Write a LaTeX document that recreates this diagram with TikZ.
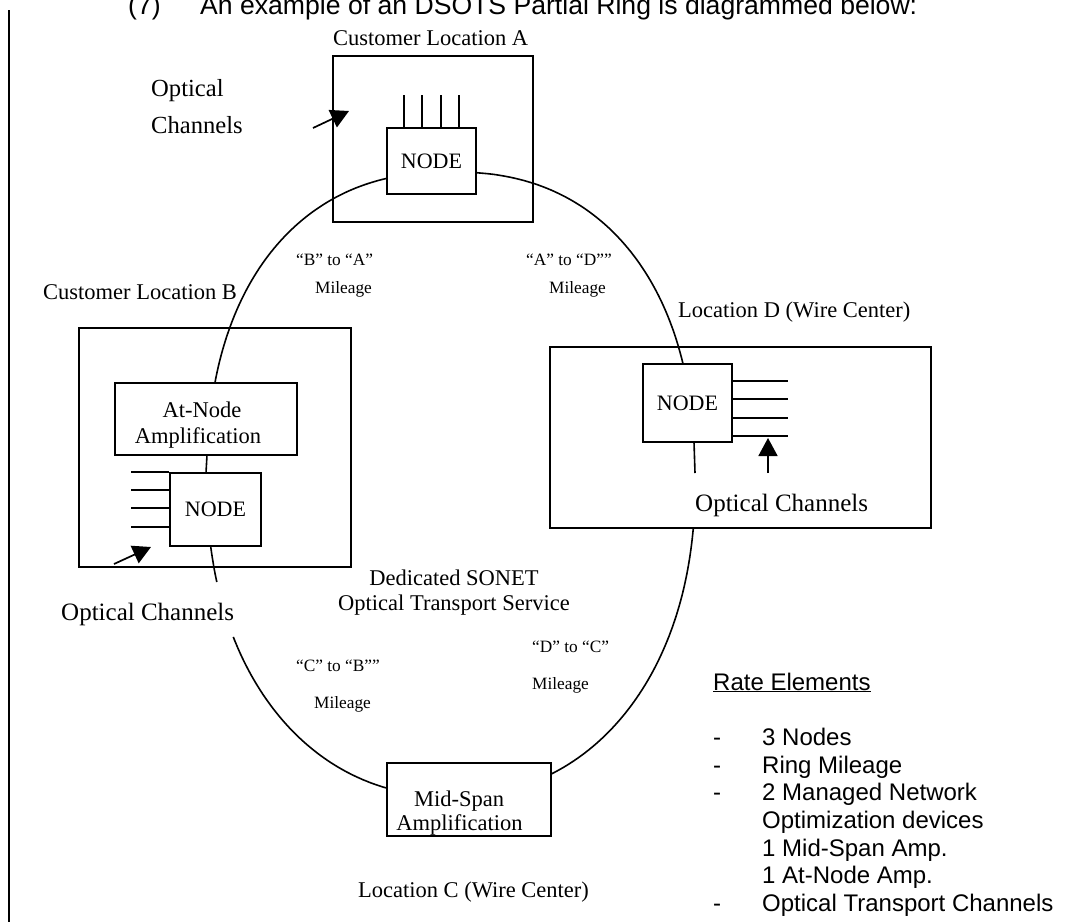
\documentclass[tikz,border=0pt]{standalone}
\usepackage{fontspec}
\setmainfont{Liberation Serif}
\newfontfamily\arialf{Liberation Sans}
\usetikzlibrary{arrows.meta,calc}
\begin{document}
\begin{tikzpicture}[x=1pt,y=-1pt,
  box/.style={draw,line width=1.9pt,inner sep=0pt},
  inbox/.style={draw,line width=1.9pt,fill=white,inner sep=0pt,font=\fontsize{22}{24}\selectfont},
  ring/.style={line width=1.6pt},
  chan/.style={line width=1.7pt},
  inarrow/.style={line width=1.7pt,-{Triangle[length=18pt,width=19pt]}},
  lbl/.style={inner sep=0pt,anchor=base west,font=\fontsize{22.5}{25}\selectfont},
  clbl/.style={inner sep=0pt,anchor=base,font=\fontsize{22.5}{25}\selectfont},
  mil/.style={inner sep=0pt,anchor=base west,font=\fontsize{17.3}{20}\selectfont},
  och/.style={inner sep=0pt,anchor=base west,font=\fontsize{25}{30}\selectfont},
]
\useasboundingbox (0,0) rectangle (1084,922);
\clip (0,0) rectangle (1084,922);

% title
\node[inner sep=0pt,anchor=base west,font=\arialf\fontsize{26.6}{30}\selectfont] (num) at (128,14) {(7)};
\node[inner sep=0pt,anchor=base west,font=\arialf\fontsize{26.6}{30}\selectfont] (title) at (200,14) {An example of an DSOTS Partial Ring is diagrammed below:};

% left margin bar
\coordinate (lt) at (9,10);
\coordinate (lb) at (9,922);
\draw[line width=2pt] (lt) -- (lb);

% outer location boxes
\node[box,minimum width=200pt,minimum height=166pt] (boxA) at (433,139) {};
\node[box,minimum width=272pt,minimum height=239pt] (boxB) at (215,447.5) {};
\node[box,minimum width=381pt,minimum height=181pt] (boxD) at (740.5,437.5) {};

% ring (super-ellipse, centre (451,482.5)), drawn in segments between the boxes
% upper left: At-Node top -> NODE A west
\draw[ring] plot[domain=164.32:102.4,samples=60,variable=\t]
  ({451-244*pow(-cos(\t),0.8696)},{482.5-310.5*pow(sin(\t),0.8696)});
% upper right: NODE A east -> NODE D top
\draw[ring] plot[domain=85.8:19.29,samples=60,variable=\t]
  ({451+244*pow(cos(\t),0.8696)},{482.5-310.5*pow(sin(\t),0.8696)});
% NODE D bottom -> inside box D
\coordinate (d2) at (694,442);
\coordinate (d3) at (695,473);
\draw[ring] (d2) -- (d3);
% lower right: box D bottom -> Mid-Span east
\draw[ring] plot[domain=-7.2:-67.46,samples=60,variable=\t]
  ({451+244*pow(cos(\t),0.9302)},{482.5+314*pow(-sin(\t),0.9302)});
% lower left: Mid-Span west -> below "Optical Channels"
\draw[ring] plot[domain=-103.72:-152.2,samples=60,variable=\t]
  ({451-244*pow(-cos(\t),0.9302)},{482.5+314*pow(-sin(\t),0.9302)});
% above "Optical Channels" -> NODE B bottom
\draw[ring] plot[domain=-163.1:-169.67,samples=10,variable=\t]
  ({451-244*pow(-cos(\t),0.9302)},{482.5+314*pow(-sin(\t),0.9302)});
% At-Node bottom -> NODE B top
\coordinate (b1a) at (207,455);
\coordinate (b2) at (206,473);
\draw[ring] (b1a) -- (b2);

% inner boxes
\node[inbox,minimum width=89pt,minimum height=66pt] (nA) at (431.5,161) {NODE};
\node[inbox,minimum width=182pt,minimum height=72pt] (an) at (206,419) {};
\node[inbox,minimum width=91pt,minimum height=73pt] (nB) at (215.5,509.5) {NODE};
\node[inbox,minimum width=89pt,minimum height=78pt] (nD) at (687.5,403) {NODE};
\node[inbox,minimum width=164pt,minimum height=73pt] (ms) at (469,799.5) {};

% box texts
\node[clbl] (an1) at (202,417.4) {At-Node};
\node[clbl] (an2) at (198,443.4) {Amplification};
\node[clbl] (ms1) at (459,806.4) {Mid-Span};
\node[clbl] (ms2) at (459.5,830.4) {Amplification};

% channel lines
\foreach \dx in {18,36,55,73}
  \draw[chan] ($(nA.north west)+(\dx,0)$) -- ++(0,-32);
\foreach \dy in {0,18,36,55}
  \draw[chan] ($(nB.north west)+(0,\dy)$) -- ++(-38,0);
\foreach \dy in {18,36,55,73}
  \draw[chan] ($(nD.north east)+(0,\dy)$) -- ++(55,0);

% optical channel arrows
\coordinate (arA0) at (313,128);
\coordinate (arA1) at (349,111);
\draw[inarrow] (arA0) -- (arA1);
\coordinate (arB0) at (114,564);
\coordinate (arB1) at (151,547);
\draw[inarrow] (arB0) -- (arB1);
\coordinate (arD0) at (768,473);
\coordinate (arD1) at (768,438);
\draw[inarrow] (arD0) -- (arD1);

% labels
\node[lbl] (locA) at (333,45.4) {Customer Location A};
\node[inner sep=0pt,anchor=base west,font=\fontsize{24.6}{30}\selectfont] (ocA1) at (151,96) {Optical};
\node[inner sep=0pt,anchor=base west,font=\fontsize{24.6}{30}\selectfont] (ocA2) at (151,133) {Channels};
\node[lbl] (locB) at (43,299.4) {Customer Location B};
\node[lbl] (locD) at (678,317.4) {Location D (Wire Center)};
\node[clbl] (locC) at (473.5,897.4) {Location C (Wire Center)};
\node[och] (ocD) at (695,511) {Optical Channels};
\node[och] (ocB) at (61,620) {Optical Channels};
\node[clbl] (svc1) at (454,585.4) {Dedicated SONET};
\node[clbl] (svc2) at (454,610.4) {Optical Transport Service};

% mileage labels
\node[mil] (ba1) at (296,265.7) {“B” to “A”};
\node[mil] (ba2) at (315,293.7) {Mileage};
\node[mil] (ad1) at (526,265.7) {“A” to “D””};
\node[mil] (ad2) at (549,293.7) {Mileage};
\node[mil] (cb1) at (296,671.7) {“C” to “B””};
\node[mil] (cb2) at (314,708.7) {Mileage};
\node[mil] (dc1) at (532,652.7) {“D” to “C”};
\node[mil] (dc2) at (532,689.7) {Mileage};

% rate elements
\node[inner sep=0pt,anchor=base west,font=\arialf\fontsize{24}{27.7}\selectfont] (rate) at (713,690)
 {\begin{tabular}[t]{@{}p{49pt}@{}l@{}}
  \multicolumn{2}{@{}l@{}}{\underline{Rate Elements}}\\
  \\
  -&3 Nodes\\
  -&Ring Mileage\\
  -&2 Managed Network\\
   &Optimization devices\\
   &1 Mid-Span Amp.\\
   &1 At-Node Amp.\\
  -&Optical Transport Channels
 \end{tabular}};
\end{tikzpicture}
\end{document}
